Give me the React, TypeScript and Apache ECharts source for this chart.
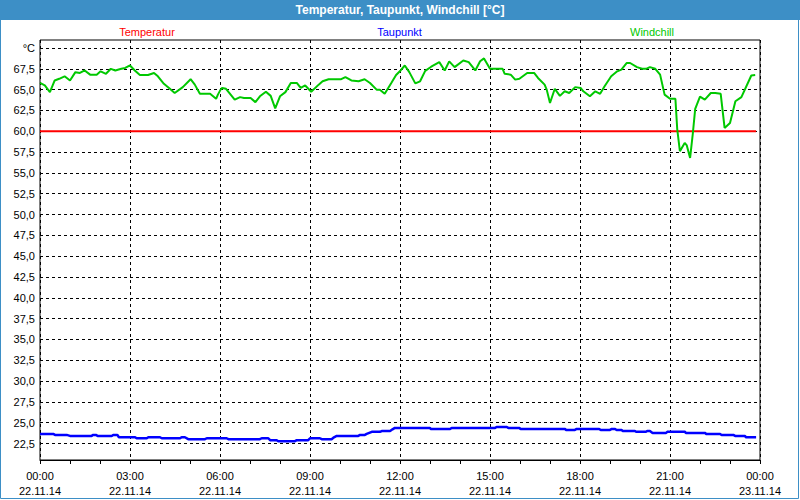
import React, { useEffect, useRef } from "react";
import * as echarts from "echarts";

const chartTitle = "Temperatur, Taupunkt, Windchill [°C]";
const seriesNames = ["Temperatur", "Taupunkt", "Windchill"];
const seriesColors = ["#ff0000", "#0000ff", "#00c800"];

// x in hours since 22.11.14 00:00
const xTickHours = [0, 3, 6, 9, 12, 15, 18, 21, 24];
const xTickDates = ["22.11.14", "22.11.14", "22.11.14", "22.11.14", "22.11.14", "22.11.14", "22.11.14", "22.11.14", "23.11.14"];

const tempTimes = [0, 23.87];
const tempValues = [60.0, 60.0];

const dewTimes = [
  0, 0.44, 0.5, 0.89, 1.0, 1.72, 1.76, 1.86, 1.92, 2.39, 2.44, 2.58, 2.63, 3.17, 3.22, 3.56, 3.61, 4.0,
  4.06, 4.67, 4.72, 4.83, 4.94, 5.5, 5.56, 6.22, 6.28, 7.33, 7.39, 7.61, 7.67, 7.89, 7.94, 8.5, 8.56,
  8.94, 9.0, 9.33, 9.39, 9.72, 9.8, 9.89, 10.61, 10.67, 10.83, 10.89, 11.06, 11.33, 11.39, 11.67, 11.75,
  11.83, 13.0, 13.02, 13.67, 13.72, 15.17, 15.22, 15.56, 15.61, 15.98, 16.02, 17.5, 17.53, 17.83, 17.89,
  18.64, 18.69, 19.0, 19.06, 19.17, 19.22, 19.39, 19.42, 19.83, 19.87, 20.2, 20.24, 20.33, 20.42, 20.87,
  20.91, 21.5, 21.53, 22.17, 22.2, 22.67, 22.72, 23.11, 23.17, 23.5, 23.53, 23.87,
];
const dewValues = [
  23.65, 23.65, 23.53, 23.53, 23.41, 23.41, 23.53, 23.53, 23.41, 23.41, 23.53, 23.53, 23.25, 23.25, 23.13,
  23.13, 23.25, 23.25, 23.13, 23.13, 23.25, 23.25, 23.02, 23.02, 23.13, 23.13, 23.02, 23.02, 23.13, 23.13,
  22.9, 22.9, 22.78, 22.78, 22.9, 22.9, 23.13, 23.13, 23.02, 23.02, 23.25, 23.41, 23.41, 23.53, 23.53,
  23.65, 23.9, 23.9, 24.0, 24.0, 24.2, 24.37, 24.37, 24.25, 24.25, 24.37, 24.37, 24.48, 24.48, 24.37,
  24.37, 24.25, 24.25, 24.13, 24.13, 24.25, 24.25, 24.13, 24.13, 24.25, 24.25, 24.13, 24.13, 24.0, 24.0,
  23.9, 23.9, 24.0, 24.0, 23.77, 23.77, 23.9, 23.9, 23.77, 23.77, 23.65, 23.65, 23.53, 23.53, 23.41,
  23.41, 23.25, 23.25,
];

const windTimes = [
  0.0, 0.16, 0.33, 0.49, 0.64, 0.82, 1.0, 1.18, 1.33, 1.49, 1.67, 1.89, 2.02, 2.2, 2.36, 2.51, 2.71, 2.84,
  3.0, 3.16, 3.33, 3.6, 3.8, 3.93, 4.13, 4.33, 4.49, 4.76, 5.02, 5.16, 5.33, 5.67, 5.87, 5.93, 6.02, 6.07,
  6.2, 6.49, 6.67, 6.8, 7.02, 7.18, 7.33, 7.53, 7.69, 7.84, 8.0, 8.18, 8.36, 8.56, 8.69, 8.84, 9.04, 9.29,
  9.42, 9.62, 10.04, 10.18, 10.38, 10.62, 10.82, 11.0, 11.22, 11.33, 11.49, 11.71, 11.87, 12.02, 12.16,
  12.31, 12.51, 12.67, 12.84, 13.04, 13.31, 13.49, 13.64, 13.82, 14.11, 14.29, 14.51, 14.67, 14.8, 15.0,
  15.42, 15.49, 15.69, 15.84, 15.98, 16.24, 16.47, 16.6, 16.82, 16.89, 17.0, 17.16, 17.33, 17.49, 17.64,
  17.84, 18.02, 18.11, 18.33, 18.51, 18.67, 18.82, 19.04, 19.24, 19.38, 19.56, 19.67, 19.9, 20.07, 20.2,
  20.33, 20.51, 20.67, 20.82, 21.0, 21.18, 21.24, 21.33, 21.49, 21.56, 21.67, 21.76, 21.84, 22.0, 22.16,
  22.36, 22.51, 22.69, 22.82, 23.0, 23.18, 23.38, 23.71, 23.84,
];
const windValues = [
  65.8, 65.5, 64.7, 66.1, 66.3, 66.6, 66.1, 67.1, 67.0, 67.3, 66.8, 66.8, 67.2, 66.9, 67.5, 67.3, 67.5, 67.6,
  67.9, 67.3, 66.75, 66.75, 67.0, 66.6, 65.7, 65.1, 64.6, 65.3, 66.25, 65.6, 64.5, 64.5, 63.9, 64.4, 65.0, 65.2,
  65.1, 63.8, 64.1, 64.0, 64.0, 63.5, 64.2, 64.75, 64.25, 62.75, 64.2, 64.7, 65.8, 65.8, 65.2, 65.5, 64.75, 65.6,
  66.0, 66.25, 66.25, 66.5, 66.1, 66.0, 66.25, 65.8, 65.0, 65.0, 64.5, 65.8, 66.75, 67.3, 67.9,
  67.1, 65.75, 66.0, 67.25, 67.75, 68.3, 67.3, 68.4, 67.7, 68.5, 68.3, 67.3, 68.4, 68.75, 67.5,
  67.5, 66.9, 66.8, 66.2, 66.3, 67.0, 67.0, 66.4, 65.6, 65.0, 63.4, 65.1, 64.25, 64.8, 64.6,
  65.3, 65.2, 64.8, 64.2, 64.8, 64.5, 65.4, 66.6, 67.2, 67.4, 68.2, 68.2, 67.7, 67.5, 67.5,
  67.7, 67.5, 66.8, 64.4, 63.9, 63.9, 60.3, 57.6, 58.6, 58.3, 56.8, 59.7, 62.7, 64.15, 63.8,
  64.6, 64.6, 64.5, 60.4, 61.0, 63.6, 64.1, 66.7, 66.75,
];

const yMin = 22.5;
const yMax = 70;
const yStep = 2.5;

const FONT = "'Liberation Sans', Arial, sans-serif";
const FRAME = "#3d8fc6";

const zip = (t: number[], v: number[]) => t.map((x, i) => [x, v[i]]);

export default function App() {
  const ref = useRef<HTMLDivElement>(null);
  useEffect(() => {
    if (!ref.current) return;
    const chart = echarts.init(ref.current, null, { renderer: "svg" });
    const fmtX = (v: number) => {
      const i = xTickHours.indexOf(v);
      if (i < 0) return "";
      const hh = String(v % 24).padStart(2, "0");
      return `${hh}:00\n${xTickDates[i]}`;
    };
    const option: any = {
      animation: false,
      backgroundColor: "#ffffff",
      textStyle: { fontFamily: FONT },
      grid: [
        { left: 40, right: 40, top: 40, bottom: 40, show: true, borderColor: "#000", borderWidth: 1, backgroundColor: "transparent" },
        { left: 40, right: 40, top: 48, bottom: 56.5, show: false },
      ],
      xAxis: [
        {
          gridIndex: 0,
          type: "value",
          min: 0,
          max: 24,
          interval: 3,
          axisLine: { show: true, lineStyle: { color: "#000", width: 1 } },
          axisTick: { show: true, length: 4, lineStyle: { color: "#000" } },
          minorTick: { show: true, splitNumber: 3, length: 4, lineStyle: { color: "#000" } },
          splitLine: { show: true, lineStyle: { color: "#000", type: [3, 3], width: 1 } },
          axisLabel: { formatter: fmtX, color: "#000", fontSize: 11, fontFamily: FONT, lineHeight: 15, margin: 8 },
        },
        { gridIndex: 1, type: "value", min: 0, max: 24, show: false },
      ],
      yAxis: [
        { gridIndex: 0, type: "value", min: 0, max: 1, show: false },
        {
          gridIndex: 1,
          type: "value",
          min: yMin,
          max: yMax,
          interval: yStep,
          axisLine: { show: false },
          axisTick: { show: false },
          splitLine: { show: true, lineStyle: { color: "#000", type: [3, 3], width: 1 } },
          axisLabel: {
            color: "#000",
            fontSize: 11,
            fontFamily: FONT,
            margin: 5,
            formatter: (v: number) => (v === yMax ? "°C" : v.toFixed(1).replace(".", ",")),
          },
        },
      ],
      graphic: [
        { type: "rect", shape: { x: 0, y: 0, width: 800, height: 20 }, style: { fill: FRAME }, silent: true },
        { type: "rect", shape: { x: 0.5, y: 0.5, width: 798, height: 498 }, style: { fill: "none", stroke: FRAME, lineWidth: 1 }, silent: true },
        {
          type: "text", x: 400, y: 10,
          style: { text: chartTitle, fill: "#fff", font: `bold 12px ${FONT}`, textAlign: "center", textVerticalAlign: "middle" },
        },
        ...seriesNames.map((n, i) => ({
          type: "text", x: 147 + i * 252.5, y: 32,
          style: { text: n, fill: seriesColors[i], font: `11px ${FONT}`, textAlign: "center", textVerticalAlign: "middle" },
        })),
      ],
      series: [
        { name: seriesNames[0], type: "line", xAxisIndex: 1, yAxisIndex: 1, data: zip(tempTimes, tempValues), showSymbol: false, symbol: "none", lineStyle: { color: seriesColors[0], width: 2 }, z: 3 },
        { name: seriesNames[1], type: "line", xAxisIndex: 1, yAxisIndex: 1, data: zip(dewTimes, dewValues), showSymbol: false, symbol: "none", lineStyle: { color: seriesColors[1], width: 2.5 }, z: 3 },
        { name: seriesNames[2], type: "line", xAxisIndex: 1, yAxisIndex: 1, data: zip(windTimes, windValues), showSymbol: false, symbol: "none", lineStyle: { color: seriesColors[2], width: 2 }, z: 4 },
      ],
    };
    chart.setOption(option);
    return () => chart.dispose();
  }, []);
  return <div ref={ref} style={{ position: "fixed", left: 0, top: 0, width: 800, height: 500 }} />;
}
